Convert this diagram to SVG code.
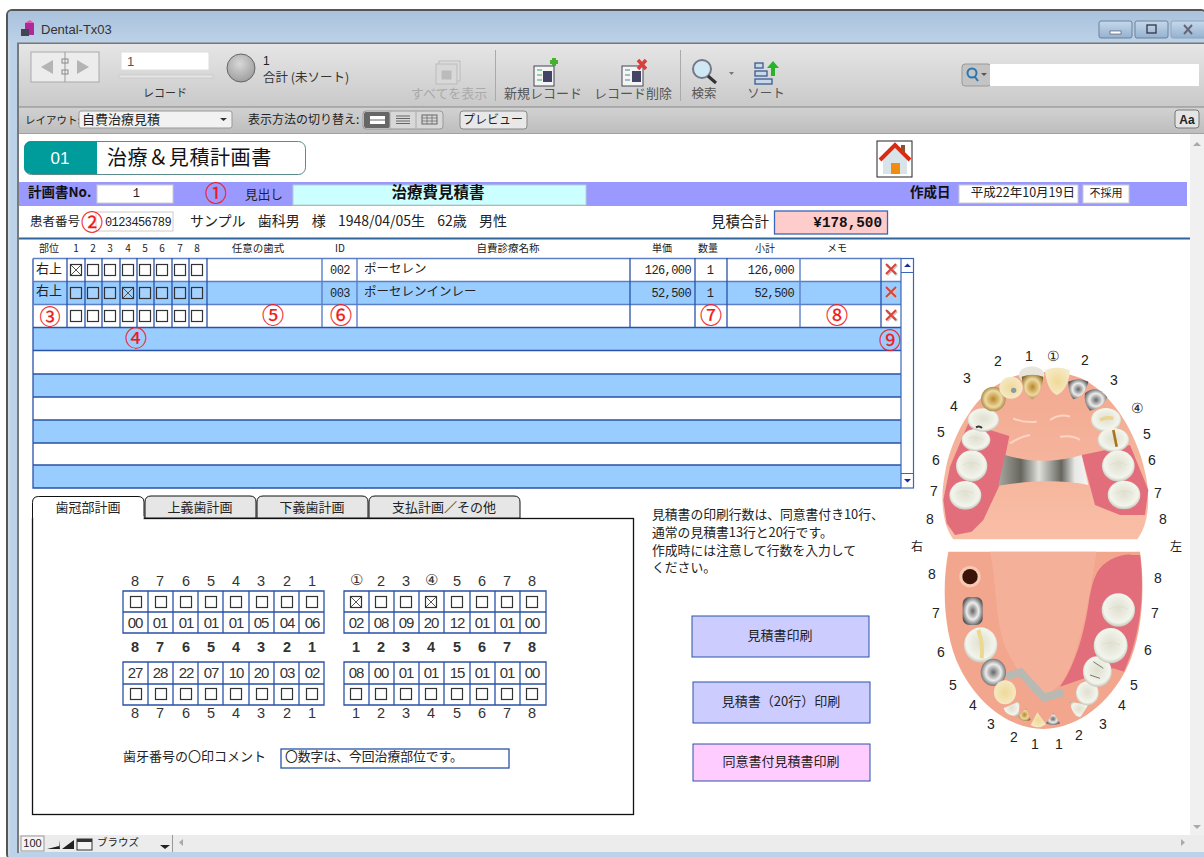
<svg xmlns="http://www.w3.org/2000/svg" width="1204" height="857" viewBox="0 0 1204 857">
<style>
text{font-family:"Noto Sans CJK JP","DejaVu Sans",sans-serif;fill:#222;font-size:12px}
.m{text-anchor:middle}.e{text-anchor:end}
.b{font-weight:700}
.mono{font-family:"Liberation Mono","DejaVu Sans Mono",monospace}
.dg{font-family:"Liberation Mono","DejaVu Sans Mono",monospace;font-size:12px;letter-spacing:-.6px}
.h{font-size:10px}
.tb{font-size:12.5px;fill:#555}
.dis{fill:#aaa}
.cn{fill:#f01818;font-size:22px;text-anchor:middle;stroke:#f01818;stroke-width:.25}
.l{stroke:#2a52a8;stroke-width:1.3;fill:none}
.l2{stroke:#5c7fc8;stroke-width:1.4;fill:none}
.d{font-family:"Liberation Sans",sans-serif;font-size:14px;text-anchor:middle}
.t{font-family:"Liberation Sans",sans-serif;font-size:14.5px;text-anchor:middle;fill:#333}
.two{font-family:"Liberation Sans",sans-serif;font-size:15px;letter-spacing:-1.2px;text-anchor:middle;fill:#333}
.btn{stroke:#2a52a8;stroke-width:1}
.tab{fill:#e6e6e6;stroke:#111;stroke-width:1}
.ln{font-size:12.8px}
.cusp{fill:none;stroke:#dcdccf;stroke-width:2.5}
</style>
<defs>
<linearGradient id="tit" x1="0" y1="0" x2="0" y2="1"><stop offset="0" stop-color="#a9c2dc"/><stop offset="1" stop-color="#bcd2e8"/></linearGradient>
<linearGradient id="tool" x1="0" y1="0" x2="0" y2="1"><stop offset="0" stop-color="#e6e6e6"/><stop offset="1" stop-color="#c9c9c9"/></linearGradient>
<linearGradient id="lay" x1="0" y1="0" x2="0" y2="1"><stop offset="0" stop-color="#d2d2d2"/><stop offset="1" stop-color="#bdbdbd"/></linearGradient>
<linearGradient id="wb" x1="0" y1="0" x2="0" y2="1"><stop offset="0" stop-color="#c6d9ec"/><stop offset="1" stop-color="#94b1cf"/></linearGradient>
<radialGradient id="ball" cx=".45" cy=".35" r=".7"><stop offset="0" stop-color="#d8d8d8"/><stop offset="1" stop-color="#9a9a9a"/></radialGradient>
<radialGradient id="wt" cx=".5" cy=".45" r=".62"><stop offset="0" stop-color="#dfe0cf"/><stop offset=".7" stop-color="#f3f4ec"/><stop offset="1" stop-color="#a9ad9c"/></radialGradient>
<radialGradient id="gd" cx=".5" cy=".5" r=".6"><stop offset="0" stop-color="#b8862a"/><stop offset=".55" stop-color="#eed9a0"/><stop offset="1" stop-color="#84601e"/></radialGradient>
<radialGradient id="yl" cx=".5" cy=".5" r=".6"><stop offset="0" stop-color="#f0d998"/><stop offset="1" stop-color="#f6eccc"/></radialGradient>
<radialGradient id="sv" cx=".5" cy=".5" r=".6"><stop offset="0" stop-color="#666"/><stop offset=".5" stop-color="#ececec"/><stop offset="1" stop-color="#3c3c3c"/></radialGradient>
<linearGradient id="dome" x1="0" y1="0" x2="0" y2="1"><stop offset="0" stop-color="#f2a890"/><stop offset="1" stop-color="#f9bea6"/></linearGradient>
<linearGradient id="metal" x1="0" y1="0" x2="1" y2="0"><stop offset="0" stop-color="#a8a8a0"/><stop offset=".25" stop-color="#66665f"/><stop offset=".45" stop-color="#e0e0dc"/><stop offset=".7" stop-color="#66665f"/><stop offset=".85" stop-color="#e8e8e6"/><stop offset="1" stop-color="#f4f4f2"/></linearGradient>
<g id="cb"><rect x="-5.5" y="-5.500" width="11" height="11" fill="#fff" fill-opacity=".12" stroke="#333" stroke-width="1.200"/></g>
<g id="cbx"><use href="#cb"/><path d="M-5-5L5 5M5-5L-5 5" stroke="#444" stroke-width=".9"/></g>
<g id="del"><path d="M-5-5L5 5M5-5L-5 5" stroke="#c9c9c9" stroke-width="3" transform="translate(1,1)"/><path d="M-5-5L5 5M5-5L-5 5" stroke="#dc4438" stroke-width="2"/></g>
</defs>

<g id="window">
<rect x="0" y="0" width="1204" height="857" fill="#fff"/>
<rect x="7" y="10" width="1199" height="849" rx="5" fill="#bcd2e8" stroke="#555" stroke-width="2"/>
<rect x="8" y="11" width="1196" height="32" rx="4" fill="url(#tit)"/>
<rect x="8.500" y="40" width="1" height="817" fill="#ddd"/>
<rect x="18" y="43" width="1186" height="64" fill="url(#tool)"/>
<rect x="17" y="42.500" width="1187" height="1.500" fill="#777"/>
<rect x="18" y="107" width="1186" height="27" fill="url(#lay)"/>
<rect x="18" y="106.500" width="1186" height="1" fill="#888"/>
<rect x="18" y="133.500" width="1186" height="1" fill="#888"/>
<rect x="19" y="134" width="1185" height="701" fill="#fff"/>
<rect x="17" y="43" width="2" height="810" fill="#7a7a7a"/>
<rect x="1190" y="134" width="14" height="718" fill="#f0f0f0"/>
<path d="M1193 146l4-4 4 4zM1193 825h8l-4 4z" fill="#aaa"/>
<rect x="19" y="835" width="1185" height="17" fill="#ececec"/>
<rect x="19" y="852" width="1185" height="5" fill="#bcd2e8"/>
<rect x="25" y="23" width="9" height="12" fill="#b0289a"/><rect x="21" y="29" width="8" height="7" fill="#445"/><path d="M25 23l5-3 4 3z" fill="#e35bb5"/>
<text x="41" y="34" style="font-family:'Liberation Sans',sans-serif;font-size:13px;fill:#333">Dental-Tx03</text>
<rect x="1099" y="21" width="33" height="17" rx="2" fill="url(#wb)" stroke="#6e8299"/><rect x="1110" y="31" width="11" height="3" fill="#fff" stroke="#445" stroke-width=".6"/>
<rect x="1135" y="21" width="33" height="17" rx="2" fill="url(#wb)" stroke="#6e8299"/><rect x="1147" y="25" width="9" height="8" fill="none" stroke="#334" stroke-width="1.300"/>
<rect x="1171" y="21" width="36" height="17" rx="2" fill="url(#wb)" stroke="#8fa5bc"/><path d="M1184 25l8 9M1192 25l-8 9" stroke="#667" stroke-width="2"/>
</g>

<g id="toolbar">
<rect x="31" y="52" width="68" height="30" fill="#ececec" stroke="#aaa"/>
<path d="M41 67l12-7v14zM89 67l-12-7v14z" fill="#b4b4b4"/>
<path d="M65 52v30" stroke="#999"/><rect x="62" y="59" width="6" height="4" fill="none" stroke="#888"/><rect x="62" y="70" width="6" height="4" fill="none" stroke="#888"/>
<rect x="121" y="52" width="88" height="18" fill="#fff" stroke="#ddd"/>
<text x="127" y="66" style="fill:#555;font-family:'Liberation Sans',sans-serif;font-size:13px">1</text>
<rect x="119" y="75" width="94" height="3" fill="#e4e4e4" stroke="#bbb" stroke-width=".5"/>
<text x="165" y="97" class="m tb" style="fill:#333;font-size:11px">レコード</text>
<circle cx="241" cy="68" r="14" fill="url(#ball)" stroke="#666"/>
<text x="263" y="65" style="font-family:'Liberation Sans',sans-serif;font-size:12px">1</text>
<text x="263" y="82" style="font-size:12.500px;fill:#333">合計 (未ソート)</text>
<g fill="#ddd" stroke="#bbb"><rect x="439" y="61" width="21" height="20"/><rect x="436" y="64" width="21" height="20" fill="#d8d8d8"/><rect x="442" y="71" width="9" height="8" fill="#bbb"/></g>
<text x="449" y="98" class="m tb dis" style="font-size:13px">すべてを表示</text>
<path d="M495.500 50v51" stroke="#aaa"/>
<rect x="534" y="66" width="20" height="20" fill="#f4f4f4" stroke="#445"/><rect x="543" y="71" width="9" height="11" fill="#446"/><path d="M537 70h5M537 75h5M537 80h5" stroke="#3a6"/><path d="M550 62h8M554 58v8" stroke="#46b030" stroke-width="4"/>
<text x="543" y="98" class="m tb" style="font-size:13px">新規レコード</text>
<rect x="622" y="66" width="21" height="20" fill="#f4f4f4" stroke="#445"/><rect x="632" y="71" width="9" height="11" fill="#446"/><path d="M625 70h5M625 75h5M625 80h5" stroke="#488"/><path d="M638 60l8 9M646 60l-8 9" stroke="#d84040" stroke-width="3.500"/>
<text x="633" y="98" class="m tb" style="font-size:13px">レコード削除</text>
<path d="M680.500 50v51" stroke="#aaa"/>
<circle cx="702" cy="69" r="9" fill="#cfe8f4" stroke="#778" stroke-width="2"/><path d="M708 76l8 7" stroke="#333" stroke-width="3"/>
<path d="M729 72h5l-2.500 3z" fill="#777"/>
<text x="704" y="98" class="m tb">検索</text>
<g fill="#c8d8e8" stroke="#3a5a90" stroke-width="1.300"><rect x="755" y="63" width="8" height="5"/><rect x="755" y="71" width="12" height="5"/><rect x="755" y="79" width="17" height="5"/></g><path d="M773 61l-6 7h4v8h4v-8h4z" fill="#28b428"/>
<text x="766" y="98" class="m tb">ソート</text>
<rect x="962" y="64" width="29" height="22" rx="3" fill="#c4c4c4" stroke="#999"/>
<circle cx="972" cy="73" r="4.500" fill="none" stroke="#2a76b0" stroke-width="2"/><path d="M975 77l3 4" stroke="#2a76b0" stroke-width="2"/><path d="M981 73h6l-3 3z" fill="#555"/>
<rect x="990" y="64" width="209" height="22" fill="#fff"/>
</g>

<g id="layoutbar">
<text x="25" y="124" style="font-size:10.500px">レイアウト:</text>
<rect x="79" y="111" width="153" height="17" rx="2" fill="#f2f2f2" stroke="#999"/>
<text x="82" y="124" style="font-size:13px">自費治療見積</text><path d="M220 118h7l-3.500 3z" fill="#333"/>
<text x="248" y="124">表示方法の切り替え:</text>
<rect x="363" y="111" width="80" height="18" rx="3" fill="#d8d8d8" stroke="#999"/>
<rect x="364" y="112" width="26" height="16" rx="2" fill="#666"/><rect x="370" y="116" width="15" height="8" fill="#fff"/><path d="M370 120h15" stroke="#666"/>
<path d="M396 116h14M396 118.500h14M396 121h14M396 123.500h14" stroke="#666"/><rect x="422" y="115" width="15" height="9" fill="none" stroke="#666"/><path d="M422 118h15M422 121h15M427 115v9M432 115v9" stroke="#666" stroke-width=".7"/>
<path d="M390 111v18M416 111v18" stroke="#aaa"/>
<rect x="460" y="111" width="67" height="18" rx="3" fill="#e8e8e8" stroke="#888"/>
<text x="493" y="124" class="m">プレビュー</text>
<rect x="1175" y="110" width="24" height="18" rx="3" fill="#e4e4e4" stroke="#777"/>
<text x="1187" y="124" class="m b" style="font-family:'Liberation Sans',sans-serif;font-size:12px">Aa</text>
</g>

<g id="title">
<rect x="24.500" y="141.500" width="281" height="33" rx="7" fill="#fff" stroke="#5a8a8a"/>
<path d="M31 141h66v33H31a7 7 0 0 1-7-7v-19a7 7 0 0 1 7-7z" fill="#009b9b"/>
<text x="60" y="164" class="m" style="fill:#fff;font-family:'Liberation Sans',sans-serif;font-size:17px">01</text>
<text x="107" y="165" style="font-size:20px;letter-spacing:.6px;fill:#111">治療＆見積計画書</text>
</g>
<g id="home">
<rect x="877" y="141" width="35" height="36" fill="#fff" stroke="#222"/>
<path d="M883 159l12-12 12 12v15h-24z" fill="#d8e4ea"/>
<path d="M880 160l15-15 15 15" fill="none" stroke="#d92a12" stroke-width="4"/>
<rect x="901" y="145" width="4" height="7" fill="#8a5030"/>
<rect x="891" y="163" width="9" height="11" fill="#f08c10"/>
</g>

<g id="header-band">
<rect x="19" y="182" width="1168" height="24" fill="#9999ff"/>
<text x="28" y="197" class="b" style="fill:#111;font-size:13.500px">計画書No.</text>
<rect x="97" y="185" width="76" height="18" fill="#fff" stroke="#ccc"/>
<text x="136" y="197" class="m dg">1</text>
<text x="216" y="201" class="cn">①</text>
<text x="245" y="199" style="font-size:12.700px">見出し</text>
<rect x="293" y="185" width="293" height="20" fill="#ccffff" stroke="#b8d0d0"/>
<text x="438" y="198" class="m b" style="font-size:15.500px;fill:#111">治療費見積書</text>
<text x="910" y="197" class="b" style="font-size:13.500px;fill:#111">作成日</text>
<rect x="959" y="185" width="119" height="18" fill="#fff" stroke="#ccc"/>
<text x="1075" y="197" class="e" style="font-size:12.500px">平成22年10月19日</text>
<rect x="1083" y="185" width="46" height="18" fill="#fff" stroke="#ccc"/>
<text x="1106" y="197" class="m" style="font-size:11px">不採用</text>
</g>

<g id="patient">
<text x="30" y="226" style="font-size:12.500px">患者番号</text>
<rect x="96" y="212" width="77" height="19" fill="#fff" stroke="#ccc"/>
<text x="171" y="226" class="e dg">0123456789</text>
<text x="92" y="230" class="cn">②</text>
<text x="190" y="226" style="font-size:14px;word-spacing:9px">サンプル 歯科男 様 1948/04/05生 62歳 男性</text>
<text x="711" y="227" style="font-size:14.500px">見積合計</text>
<rect x="774.500" y="211" width="113" height="23" fill="#ffcccc" stroke="#3a66b8" stroke-width="1.300"/>
<text x="882" y="227" class="e mono b" style="font-size:14.300px;fill:#111">¥178,500</text>
<rect x="19" y="237.500" width="1171" height="2" fill="#2f649c"/>
</g>

<g id="table">
<text x="49" y="252" class="m h">部位</text>
<text x="76" y="252" class="m h">1</text><text x="93" y="252" class="m h">2</text><text x="110" y="252" class="m h">3</text><text x="128" y="252" class="m h">4</text><text x="145" y="252" class="m h">5</text><text x="162" y="252" class="m h">6</text><text x="180" y="252" class="m h">7</text><text x="197" y="252" class="m h">8</text>
<text x="258" y="252" class="m h" style="font-size:10.500px">任意の歯式</text><text x="340" y="252" class="m h">ID</text><text x="508" y="252" class="m h" style="font-size:10.500px">自費診療名称</text><text x="662" y="252" class="m h">単価</text><text x="708" y="252" class="m h">数量</text><text x="765" y="252" class="m h">小計</text><text x="837" y="252" class="m h">メモ</text>
<g fill="#99ccff">
<rect x="33" y="281" width="868" height="23"/><rect x="33" y="327" width="868" height="23"/><rect x="33" y="374" width="868" height="23"/><rect x="33" y="420" width="868" height="23"/><rect x="33" y="465" width="868" height="23"/>
</g>
<path class="l" d="M33 327.500H901M33 350.500H901M33 374H901M33 397H901M33 420H901M33 443H901M33 465H901M33 258.500V488H901"/>
<path class="l2" d="M33 258.500H901M33 281.500H901M33 304.500H901M322 258V327M357 258V327M800 258V327"/>
<path class="l" d="M67 258V327M85 258V327M102 258V327M120 258V327M137 258V327M154 258V327M172 258V327M189 258V327M207 258V327M630 258V327M695 258V327M727 258V327M881 258V327"/>
<text x="49" y="273" class="m" style="font-size:13px">右上</text><text x="49" y="295" class="m" style="font-size:13px">右上</text>
<use href="#cbx" x="76" y="270"/><use href="#cb" x="93" y="270"/><use href="#cb" x="110" y="270"/><use href="#cb" x="128" y="270"/><use href="#cb" x="145" y="270"/><use href="#cb" x="162" y="270"/><use href="#cb" x="180" y="270"/><use href="#cb" x="197" y="270"/>
<use href="#cb" x="76" y="293"/><use href="#cb" x="93" y="293"/><use href="#cb" x="110" y="293"/><use href="#cbx" x="128" y="293"/><use href="#cb" x="145" y="293"/><use href="#cb" x="162" y="293"/><use href="#cb" x="180" y="293"/><use href="#cb" x="197" y="293"/>
<use href="#cb" x="76" y="316"/><use href="#cb" x="93" y="316"/><use href="#cb" x="110" y="316"/><use href="#cb" x="128" y="316"/><use href="#cb" x="145" y="316"/><use href="#cb" x="162" y="316"/><use href="#cb" x="180" y="316"/><use href="#cb" x="197" y="316"/>
<text x="340" y="274" class="m dg">002</text><text x="340" y="297" class="m dg">003</text>
<text x="364" y="273" style="font-size:12.500px">ポーセレン</text><text x="364" y="296" style="font-size:12.500px">ポーセレンインレー</text>
<text x="691" y="274" class="e dg">126,000</text><text x="691" y="297" class="e dg">52,500</text>
<text x="710" y="274" class="m dg">1</text><text x="710" y="297" class="m dg">1</text>
<text x="794" y="274" class="e dg">126,000</text><text x="794" y="297" class="e dg">52,500</text>
<use href="#del" x="891" y="269"/><use href="#del" x="891" y="292"/><use href="#del" x="891" y="315"/>
<text x="50" y="324" class="cn" style="font-size:21px">③</text><text x="136" y="346" class="cn">④</text><text x="273" y="323" class="cn">⑤</text><text x="341" y="323" class="cn">⑥</text><text x="711" y="323" class="cn">⑦</text><text x="837" y="323" class="cn">⑧</text><text x="890" y="348" class="cn">⑨</text>
<rect x="901" y="258.500" width="12.500" height="229.500" fill="#fff" stroke="#3a66b8" stroke-width="1.200"/>
<path d="M901 272.500h12.500M901 473.500h12.500" stroke="#3a66b8" stroke-width="1.200"/>
<path d="M904 267l3.500-3.500 3.500 3.500zM904 479l3.500 3.500 3.500-3.500z" fill="#1a2a9a"/>
</g>

<g id="tabs">
<rect x="32.500" y="518.500" width="601" height="296" fill="#fff" stroke="#111" stroke-width="1.300"/>
<path class="tab" d="M145 518v-16q0-6 6-6H250q6 0 6 6v16z"/>
<path class="tab" d="M257 518v-16q0-6 6-6H362q6 0 6 6v16z"/>
<path class="tab" d="M369 518v-16q0-6 6-6H514q6 0 6 6v16z"/>
<path d="M32.500 518.500v-16q0-6 6-6H138q6 0 6 6v16" fill="#fff" stroke="#111"/>
<rect x="33.500" y="516" width="110" height="4" fill="#fff"/>
<text x="88" y="512" class="m" style="font-size:13px">歯冠部計画</text><text x="200" y="512" class="m" style="font-size:13px">上義歯計画</text><text x="312" y="512" class="m" style="font-size:13px">下義歯計画</text><text x="444" y="512" class="m" style="font-size:13px">支払計画／その他</text>
</g>

<g id="tooth-chart">
<text class="t" x="135" y="586">8</text><text class="t" x="160" y="586">7</text><text class="t" x="186" y="586">6</text><text class="t" x="211" y="586">5</text><text class="t" x="236" y="586">4</text><text class="t" x="261" y="586">3</text><text class="t" x="287" y="586">2</text><text class="t" x="312" y="586">1</text>
<text class="t" x="356" y="585">①</text><text class="t" x="381" y="586">2</text><text class="t" x="406" y="586">3</text><text class="t" x="431" y="585">④</text><text class="t" x="457" y="586">5</text><text class="t" x="482" y="586">6</text><text class="t" x="507" y="586">7</text><text class="t" x="532" y="586">8</text>
<text class="t b" x="135" y="652">8</text><text class="t b" x="160" y="652">7</text><text class="t b" x="186" y="652">6</text><text class="t b" x="211" y="652">5</text><text class="t b" x="236" y="652">4</text><text class="t b" x="261" y="652">3</text><text class="t b" x="287" y="652">2</text><text class="t b" x="312" y="652">1</text>
<text class="t b" x="356" y="652">1</text><text class="t b" x="381" y="652">2</text><text class="t b" x="406" y="652">3</text><text class="t b" x="431" y="652">4</text><text class="t b" x="457" y="652">5</text><text class="t b" x="482" y="652">6</text><text class="t b" x="507" y="652">7</text><text class="t b" x="532" y="652">8</text>
<text class="t" x="135" y="718">8</text><text class="t" x="160" y="718">7</text><text class="t" x="186" y="718">6</text><text class="t" x="211" y="718">5</text><text class="t" x="236" y="718">4</text><text class="t" x="261" y="718">3</text><text class="t" x="287" y="718">2</text><text class="t" x="312" y="718">1</text>
<text class="t" x="356" y="718">1</text><text class="t" x="381" y="718">2</text><text class="t" x="406" y="718">3</text><text class="t" x="431" y="718">4</text><text class="t" x="457" y="718">5</text><text class="t" x="482" y="718">6</text><text class="t" x="507" y="718">7</text><text class="t" x="532" y="718">8</text>

<path class="l" d="M123 591H324V633H123ZM123 612H324M148 591V633M173 591V633M198 591V633M223 591V633M249 591V633M274 591V633M299 591V633"/>
<path class="l" d="M344 591H546V633H344ZM344 612H546M369 591V633M394 591V633M419 591V633M444 591V633M470 591V633M495 591V633M520 591V633"/>
<path class="l" d="M123 662H324V705H123ZM123 684H324M148 662V705M173 662V705M198 662V705M223 662V705M249 662V705M274 662V705M299 662V705"/>
<path class="l" d="M344 662H546V705H344ZM344 684H546M369 662V705M394 662V705M419 662V705M444 662V705M470 662V705M495 662V705M520 662V705"/>
<use href="#cb" x="136" y="602"/><use href="#cb" x="161" y="602"/><use href="#cb" x="186" y="602"/><use href="#cb" x="211" y="602"/><use href="#cb" x="236" y="602"/><use href="#cb" x="262" y="602"/><use href="#cb" x="287" y="602"/><use href="#cb" x="312" y="602"/>
<use href="#cbx" x="356" y="602"/><use href="#cb" x="381" y="602"/><use href="#cb" x="406" y="602"/><use href="#cbx" x="431" y="602"/><use href="#cb" x="457" y="602"/><use href="#cb" x="482" y="602"/><use href="#cb" x="507" y="602"/><use href="#cb" x="532" y="602"/>
<use href="#cb" x="136" y="694"/><use href="#cb" x="161" y="694"/><use href="#cb" x="186" y="694"/><use href="#cb" x="211" y="694"/><use href="#cb" x="236" y="694"/><use href="#cb" x="262" y="694"/><use href="#cb" x="287" y="694"/><use href="#cb" x="312" y="694"/>
<use href="#cb" x="356" y="694"/><use href="#cb" x="381" y="694"/><use href="#cb" x="406" y="694"/><use href="#cb" x="431" y="694"/><use href="#cb" x="457" y="694"/><use href="#cb" x="482" y="694"/><use href="#cb" x="507" y="694"/><use href="#cb" x="532" y="694"/>
<text class="two" x="135" y="628">00</text><text class="two" x="160" y="628">01</text><text class="two" x="186" y="628">01</text><text class="two" x="211" y="628">01</text><text class="two" x="236" y="628">01</text><text class="two" x="261" y="628">05</text><text class="two" x="287" y="628">04</text><text class="two" x="312" y="628">06</text>
<text class="two" x="356" y="628">02</text><text class="two" x="381" y="628">08</text><text class="two" x="406" y="628">09</text><text class="two" x="431" y="628">20</text><text class="two" x="457" y="628">12</text><text class="two" x="482" y="628">01</text><text class="two" x="507" y="628">01</text><text class="two" x="532" y="628">00</text>
<text class="two" x="135" y="678">27</text><text class="two" x="160" y="678">28</text><text class="two" x="186" y="678">22</text><text class="two" x="211" y="678">07</text><text class="two" x="236" y="678">10</text><text class="two" x="261" y="678">20</text><text class="two" x="287" y="678">03</text><text class="two" x="312" y="678">02</text>
<text class="two" x="356" y="678">08</text><text class="two" x="381" y="678">00</text><text class="two" x="406" y="678">01</text><text class="two" x="431" y="678">01</text><text class="two" x="457" y="678">15</text><text class="two" x="482" y="678">01</text><text class="two" x="507" y="678">01</text><text class="two" x="532" y="678">00</text>
<text x="123" y="761" style="font-size:13px">歯牙番号の〇印コメント</text>
<rect x="281" y="749" width="228" height="19" fill="#fff" stroke="#2a52a8" stroke-width="1.300"/>
<text x="285" y="761" style="font-size:12.800px">〇数字は、今回治療部位です。</text>
</g>

<g id="note">
<text x="652" y="519" class="ln">見積書の印刷行数は、同意書付き10行、</text>
<text x="652" y="537" class="ln">通常の見積書13行と20行です。</text>
<text x="652" y="555" class="ln">作成時には注意して行数を入力して</text>
<text x="652" y="572" class="ln">ください。</text>
</g>

<g id="btn-print"><rect class="btn" x="692" y="616" width="177" height="41" fill="#ccccff"/><text x="780" y="640" class="m" style="font-size:13px">見積書印刷</text></g>
<g id="btn-print20"><rect class="btn" x="693" y="682" width="177" height="41" fill="#ccccff"/><text x="781" y="706" class="m" style="font-size:13px">見積書（20行）印刷</text></g>
<g id="btn-consent"><rect class="btn" x="693" y="744" width="177" height="37" fill="#ffccff"/><text x="781" y="766" class="m" style="font-size:13px">同意書付見積書印刷</text></g>

<g id="upper-arch" transform="translate(900,340) scale(.33333)">
<path d="M160 598C130 560 118 480 135 400C150 300 220 170 300 130C360 85 510 85 570 130C650 180 720 300 740 420C752 500 740 560 712 598Z" fill="url(#dome)"/>
<path d="M205 250L328 288L298 437L250 540L215 575L165 585L140 550L130 480L150 380Z" fill="#e26e7c"/>
<path d="M545 345L690 315L745 450L735 525L660 525L585 495Z" fill="#e26e7c"/>
<path d="M315 345C370 360 440 375 545 345L565 435C490 420 400 420 295 437Z" fill="url(#metal)"/>
<path d="M340 235q30 15 70 10M450 240q30-20 60-10M330 310q30-20 60-25M480 290q40-5 60 10" stroke="#fbd4c4" stroke-width="6" fill="none"/>
<ellipse cx="395" cy="105" rx="38" ry="26" fill="#e8e6dc"/>
<ellipse cx="196" cy="466" rx="48" ry="43" fill="url(#wt)"/><path class="cusp" d="M170 460q25-15 50 0"/>
<ellipse cx="215" cy="378" rx="47" ry="47" fill="url(#wt)"/><path class="cusp" d="M190 375q25-15 50 0"/>
<ellipse cx="228" cy="300" rx="43" ry="33" fill="url(#wt)"/><path class="cusp" d="M205 295q25-10 45 5"/>
<ellipse cx="250" cy="240" rx="47" ry="35" fill="url(#wt)"/>
<path d="M228 262q10-6 18 2" stroke="#333" stroke-width="6" fill="none"/>
<ellipse cx="280" cy="177" rx="37" ry="37" fill="url(#gd)"/><ellipse cx="333" cy="143" rx="35" ry="33" fill="url(#yl)"/><circle cx="341" cy="151" r="8" fill="#8a9aa0"/>
<path d="M365 110Q397 98 430 110Q425 165 397 178Q370 165 365 110Z" fill="url(#gd)"/><path d="M435 90Q470 75 510 90Q505 150 470 165Q440 150 435 90Z" fill="url(#yl)"/>
<path d="M505 125Q535 110 565 125Q555 170 520 178Q505 160 505 125Z" fill="url(#sv)"/><path d="M555 160Q590 130 622 172Q610 205 570 212Q550 190 555 160Z" fill="url(#sv)"/>
<ellipse cx="618" cy="240" rx="45" ry="36" fill="url(#wt)"/><path d="M600 240q20-10 40-5" stroke="#ecd390" stroke-width="10" fill="none"/>
<ellipse cx="640" cy="300" rx="47" ry="36" fill="url(#wt)"/><path d="M640 270l10 50" stroke="#a9761c" stroke-width="8"/>
<ellipse cx="655" cy="378" rx="49" ry="47" fill="url(#wt)"/><path class="cusp" d="M630 375q25-15 50 0"/>
<ellipse cx="672" cy="465" rx="49" ry="43" fill="url(#wt)"/><path class="cusp" d="M648 460q25-15 50 0"/>
</g>

<g id="lower-arch" transform="translate(900,535) scale(.33333)">
<path d="M145 50H720C735 150 730 300 680 400C630 500 540 580 430 582C320 580 230 500 180 400C130 300 125 150 145 50Z" fill="#f3a68e"/>
<path d="M270 50H590C575 130 560 250 530 340C510 410 480 465 440 475C390 460 340 400 310 320C285 240 290 140 270 50Z" fill="#f5b09a"/>
<path d="M600 100C630 65 680 55 695 60L720 60C732 150 730 280 672 410L640 400L480 455C520 400 550 310 565 210C572 165 580 125 600 100Z" fill="#e26e7c"/>
<path d="M320 425L362 412L432 488L490 472" fill="none" stroke="#b9b9b4" stroke-width="24"/>
<circle cx="210" cy="125" r="32" fill="#f7c8b2"/><circle cx="210" cy="125" r="23" fill="#3a1408"/>
<rect x="188" y="186" width="60" height="84" rx="20" fill="url(#sv)"/>
<ellipse cx="242" cy="330" rx="50" ry="53" fill="url(#wt)"/><path d="M235 285q15 45 10 85" stroke="#ecd88e" stroke-width="12" fill="none"/>
<ellipse cx="280" cy="412" rx="38" ry="41" fill="url(#sv)"/><ellipse cx="315" cy="472" rx="33" ry="36" fill="url(#yl)"/>
<path d="M310 520L360 498L355 545Q320 545 310 520Z" fill="url(#wt)"/>
<path d="M355 545L378 520L392 555Q370 565 355 545Z" fill="url(#gd)"/><path d="M392 570L412 532L438 568Q415 585 392 570Z" fill="url(#yl)"/><path d="M438 565L460 533L480 565Q460 575 438 565Z" fill="url(#sv)"/>
<path d="M510 500L565 510L540 548Q515 540 510 500Z" fill="url(#wt)"/>
<ellipse cx="562" cy="475" rx="34" ry="36" fill="url(#wt)"/><ellipse cx="592" cy="410" rx="43" ry="46" fill="url(#wt)"/><path d="M580 380l30 20M570 420l30 10" stroke="#776" stroke-width="3"/>
<ellipse cx="632" cy="332" rx="51" ry="53" fill="url(#wt)"/><path class="cusp" d="M605 330q25-15 55 0"/>
<ellipse cx="655" cy="225" rx="50" ry="50" fill="url(#wt)"/><path class="cusp" d="M628 222q25-15 55 0"/>
</g>

<g id="arch-labels">
<text class="d" x="998" y="366">2</text><text class="d" x="1029" y="361">1</text><text class="d" x="1053" y="361">①</text><text class="d" x="1085" y="365">2</text><text class="d" x="967" y="383">3</text><text class="d" x="1114" y="385">3</text><text class="d" x="954" y="411">4</text><text class="d" x="1137" y="413">④</text><text class="d" x="941" y="437">5</text><text class="d" x="1147" y="439">5</text><text class="d" x="936" y="465">6</text><text class="d" x="1152" y="465">6</text><text class="d" x="934" y="496">7</text><text class="d" x="1158" y="498">7</text><text class="d" x="930" y="524">8</text><text class="d" x="1163" y="524">8</text>
<text x="917" y="551" class="m">右</text><text x="1176" y="551" class="m">左</text>
<text class="d" x="932" y="579">8</text><text class="d" x="1158" y="583">8</text><text class="d" x="936" y="618">7</text><text class="d" x="1155" y="618">7</text><text class="d" x="941" y="657">6</text><text class="d" x="1148" y="655">6</text><text class="d" x="953" y="690">5</text><text class="d" x="1134" y="690">5</text><text class="d" x="973" y="710">4</text><text class="d" x="1122" y="710">4</text><text class="d" x="991" y="729">3</text><text class="d" x="1103" y="729">3</text><text class="d" x="1014" y="742">2</text><text class="d" x="1079" y="740">2</text><text class="d" x="1035" y="749">1</text><text class="d" x="1059" y="749">1</text>
</g>

<g id="statusbar">
<rect x="21" y="836" width="23" height="15" fill="#f4f4f4" stroke="#999"/>
<text x="32.500" y="847" class="m" style="font-family:'Liberation Sans',sans-serif;font-size:11px">100</text>
<path d="M47 849l12-3v-6l1 9z" fill="#222"/><path d="M62 849l12-9v9z" fill="#222"/>
<rect x="77" y="839" width="15" height="11" fill="#f4f4f4" stroke="#333"/><rect x="77" y="839" width="15" height="3" fill="#333"/>
<text x="97" y="846" style="font-size:10.500px">ブラウズ</text>
<path d="M160 845h10l-5 4z" fill="#222"/><path d="M172.500 835v17" stroke="#999"/>
<path d="M183 839v7l-4-3.500zM1181 839v7l4-3.500z" fill="#aaa"/>
</g>
</svg>
